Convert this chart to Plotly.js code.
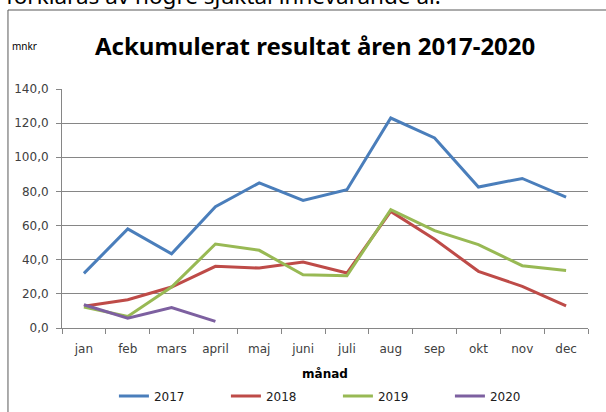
<!DOCTYPE html>
<html><head><meta charset="utf-8">
<script src="https://cdn.plot.ly/plotly-3.0.1.min.js"></script>
<style>html,body{margin:0;padding:0;background:#fff;}#chart{width:606px;height:412px;}</style>
</head><body><div id="chart"></div>
<script>
const months = ["jan","feb","mars","april","maj","juni","juli","aug","sep","okt","nov","dec"];
const v2017 = [32, 58, 43.5, 71, 85, 74.7, 81, 123, 111.3, 82.6, 87.6, 76.7];
const v2018 = [12.7, 16.6, 24, 36.1, 35.1, 38.7, 32.2, 68.3, 52, 33.2, 24.4, 13];
const v2019 = [12.3, 6.8, 24, 49.2, 45.5, 31.2, 30.6, 69.3, 57, 48.8, 36.5, 33.7];
const v2020 = [13.6, 5.8, 12, 3.9];
const seriesNames = ["2017","2018","2019","2020"];
const seriesColors = ["#4A7EBB","#BE4B48","#98B954","#7D60A0"];
const seriesValues = [v2017, v2018, v2019, v2020];

const traces = seriesValues.map((vals, i) => ({
  type: "scatter", mode: "lines",
  x: months.slice(0, vals.length), y: vals,
  name: seriesNames[i],
  line: {color: seriesColors[i], width: 3},
  hoverinfo: "skip"
}));

const tickFont = {family: "DejaVu Sans, sans-serif", size: 12, color: "#404040"};

const layout = {
  width: 606, height: 412,
  margin: {l: 62, r: 18, t: 89, b: 84},
  paper_bgcolor: "#fff", plot_bgcolor: "#fff",
  separators: ", ",
  font: {family: "Noto Sans, sans-serif", color: "#404040", size: 11},
  showlegend: true,
  legend: {orientation: "h", xref: "container", yref: "container",
           x: 0.188, xanchor: "left", y: 0.039, yanchor: "middle",
           font: {family: "DejaVu Sans, sans-serif", size: 12, color: "#202020"},
           entrywidth: 67, itemwidth: 30, bgcolor: "rgba(0,0,0,0)"},
  title: {text: "Ackumulerat resultat åren 2017-2020", x: 0.52, xanchor: "center",
          y: 0.887, yanchor: "middle", font: {size: 24, color: "#000", family: "Noto Sans, sans-serif", weight: 700}},
  xaxis: {type: "category", categoryorder: "array", categoryarray: months,
          showgrid: false, showline: true, linecolor: "#868686", linewidth: 1,
          ticks: "outside", tickson: "boundaries", ticklen: 5, tickcolor: "#868686",
          tickfont: tickFont, ticklabelstandoff: 10,
          title: {text: "månad", font: {family: "DejaVu Sans, sans-serif", size: 12, color: "#000", weight: 700}, standoff: 15},
          range: [-0.5, 11.5], fixedrange: true, automargin: false},
  yaxis: {range: [0, 140], dtick: 20, tickformat: ".1f",
          showgrid: true, gridcolor: "#868686", gridwidth: 1,
          showline: true, linecolor: "#868686", linewidth: 1,
          ticks: "outside", ticklen: 5, tickcolor: "#868686", ticklabelstandoff: 5,
          tickfont: tickFont, zeroline: false, fixedrange: true, automargin: false},
  shapes: [
    {type: "line", xref: "paper", yref: "paper", x0: -0.1027, x1: -0.1027, y0: 1.3305, y1: -0.36,
     line: {color: "#595959", width: 1}},
    {type: "line", xref: "paper", yref: "paper", x0: -0.1027, x1: 1.05, y0: 1.3305, y1: 1.3305,
     line: {color: "#595959", width: 1}}
  ],
  annotations: [
    {text: "mnkr", xref: "paper", yref: "paper", x: -0.0722, y: 1.18, xanchor: "center", yanchor: "middle",
     showarrow: false, font: {size: 10, color: "#000"}},
    {text: "förklaras av högre sjuktal innevarande år.", xref: "paper", yref: "paper",
     x: -0.110, y: 1.318, xanchor: "left", yanchor: "bottom", showarrow: false,
     font: {size: 22.5, color: "#000"}}
  ]
};

Plotly.newPlot("chart", traces, layout, {displayModeBar: false, staticPlot: true});
</script></body></html>
